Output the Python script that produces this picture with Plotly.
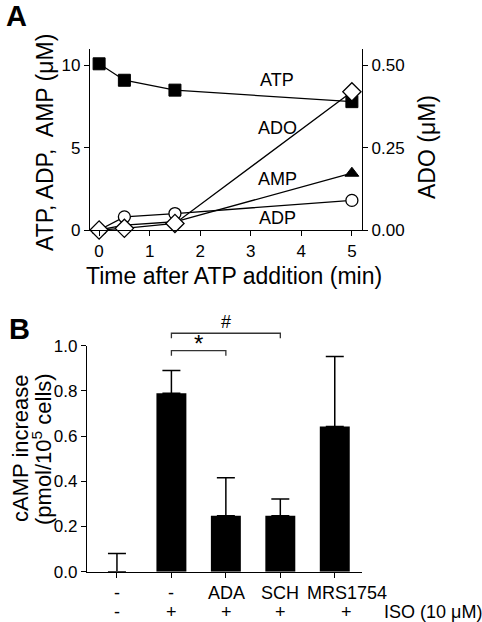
import plotly.graph_objects as go

# ---------------- Data: Panel A ----------------
time_min = [0, 0.5, 1.5, 5]
atp = [10.1, 9.1, 8.5, 7.8]
adp = [0.0, 0.8, 1.0, 1.8]
amp = [0.0, 0.3, 0.5, 3.45]
ado = [0.0, 0.005, 0.02, 0.42]   # right axis (uM)
series_labels = ["ATP", "ADO", "AMP", "ADP"]
label_y = [9.1, 6.2, 3.1, 0.73]
label_x = 3.52

# ---------------- Data: Panel B ----------------
groups = ["g1", "g2", "g3", "g4", "g5"]
camp = [0.0, 0.79, 0.248, 0.248, 0.642]
camp_err = [0.081, 0.10, 0.168, 0.074, 0.31]
row1_labels = ["-", "-", "ADA", "SCH", "MRS1754"]
row2_labels = ["-", "+", "+", "+", "+"]
brackets = [  # (from idx, to idx, level, symbol)
    (1, 2, 0.978, "*"),
    (1, 3, 1.055, "#"),
]

W, H = 482, 622
FONT = "Liberation Sans, Arial, sans-serif"


def px(x):
    return x / W


def py(y):
    return 1 - y / H


# panel B geometry (pixels)
B_BOT, B_TOP = 571.7, 345.7
B_RANGE = (0, 1.0)


def y3_to_paper(v):
    return py(B_BOT) + (v - B_RANGE[0]) / (B_RANGE[1] - B_RANGE[0]) * (py(B_TOP) - py(B_BOT))


fig = go.Figure()

line_style = dict(color="black", width=1.3)

# ADO first (behind ATP square)
fig.add_trace(go.Scatter(x=time_min, y=ado, mode="lines+markers", xaxis="x", yaxis="y2",
                         line=line_style, cliponaxis=False,
                         marker=dict(symbol="diamond", size=14, color="white",
                                     line=dict(color="black", width=1.3))))
fig.add_trace(go.Scatter(x=time_min, y=amp, mode="lines+markers", xaxis="x", yaxis="y",
                         line=line_style, cliponaxis=False,
                         marker=dict(symbol="triangle-up", size=12, color="black",
                                     line=dict(color="black", width=1))))
fig.add_trace(go.Scatter(x=time_min, y=atp, mode="lines+markers", xaxis="x", yaxis="y",
                         line=line_style, cliponaxis=False,
                         marker=dict(symbol="square", size=12, color="black",
                                     line=dict(color="black", width=1))))
fig.add_trace(go.Scatter(x=time_min, y=adp, mode="lines+markers", xaxis="x", yaxis="y",
                         line=line_style, cliponaxis=False,
                         marker=dict(symbol="circle", size=12, color="white",
                                     line=dict(color="black", width=1.3))))

# Panel B bars
fig.add_trace(go.Bar(x=list(range(len(groups))), y=camp, xaxis="x2", yaxis="y3",
                     width=0.55, marker=dict(color="black", line=dict(width=0)),
                     error_y=dict(type="data", array=camp_err, arrayminus=[0] * len(camp),
                                  symmetric=False, color="black", thickness=1.5, width=9)))


def txt(x, y, text, size, xref="paper", yref="paper", angle=0, xa="center", ya="middle"):
    return dict(x=x, y=y, xref=xref, yref=yref, text=text, showarrow=False, textangle=angle,
                xanchor=xa, yanchor=ya, font=dict(size=size, color="black", family=FONT))


annotations = []
for lab, yy in zip(series_labels, label_y):
    annotations.append(txt(label_x, yy, lab, 18, xref="x", yref="y"))

annotations += [
    txt(px(45), py(143), "ATP, ADP,\u00a0 AMP (μM)", 23, angle=-90),
    txt(px(427), py(147), "ADO (μM)", 23, angle=-90),
    txt(px(234), py(276), "Time after ATP addition (min)", 23),
    txt(px(16), py(16), "<b>A</b>", 29),
    txt(px(19), py(329), "<b>B</b>", 29),
    txt(px(20), py(448), "cAMP increase", 22, angle=-90),
    txt(px(42), py(449), "(pmol/10<sup>5</sup> cells)", 22, angle=-90),
    txt(px(433), py(612), "ISO (10 μM)", 18),
]

label_shift = [0, 0, 0.02, 0, 0.22]
for i, (r1, r2) in enumerate(zip(row1_labels, row2_labels)):
    annotations.append(txt(i + label_shift[i], py(593), r1, 18, xref="x2"))
    annotations.append(txt(i + label_shift[i], py(612), r2, 18, xref="x2"))

shapes = []
for a, b, lvl, sym in brackets:
    leg = 0.022
    y_top = y3_to_paper(lvl)
    y_leg = y3_to_paper(lvl - leg)
    shapes.append(dict(type="path", xref="x2", yref="paper",
                       path=f"M {a},{y_leg} L {a},{y_top} L {b},{y_top} L {b},{y_leg}",
                       line=dict(color="#333333", width=1.3)))
    annotations.append(dict(x=(a + b) / 2, y=y_top, xref="x2", yref="paper", text=sym,
                            showarrow=False, xanchor="center", yanchor="bottom",
                            yshift=(-8 if sym == "*" else -1),
                            font=dict(size=24 if sym == "*" else 18, color="black", family=FONT)))

axis_common = dict(showgrid=False, zeroline=False, showline=True, linecolor="black",
                   linewidth=1.3, ticks="outside", ticklen=5, tickwidth=1.3, tickcolor="black",
                   tickfont=dict(size=17, color="black", family=FONT))

fig.update_layout(
    width=W, height=H, margin=dict(l=0, r=0, t=0, b=0, autoexpand=False),
    paper_bgcolor="white", plot_bgcolor="white", showlegend=False,
    font=dict(family=FONT, color="black"),
    xaxis=dict(domain=[px(90), px(362)], range=[-0.18, 5.2], anchor="y",
               tickvals=[0, 1, 2, 3, 4, 5], **axis_common),
    yaxis=dict(domain=[py(230), py(49)], range=[0, 11], anchor="x",
               tickvals=[0, 5, 10], **axis_common),
    yaxis2=dict(overlaying="y", side="right", anchor="x", range=[0, 0.55],
                tickvals=[0, 0.25, 0.5], tickformat=".2f", **axis_common),
    xaxis2=dict(domain=[px(87), px(362)], range=[-0.55, 4.5], anchor="y3",
                tickvals=list(range(len(groups))), showticklabels=False, **axis_common),
    yaxis3=dict(domain=[py(B_BOT), py(B_TOP)], range=list(B_RANGE), anchor="x2",
                tickvals=[0, 0.2, 0.4, 0.6, 0.8, 1.0], tickformat=".1f", **axis_common),
    annotations=annotations, shapes=shapes,
)

fig.write_html("out.html", config={"displayModeBar": False},
               post_script="document.body.style.margin='0';document.body.style.overflow='hidden';")
